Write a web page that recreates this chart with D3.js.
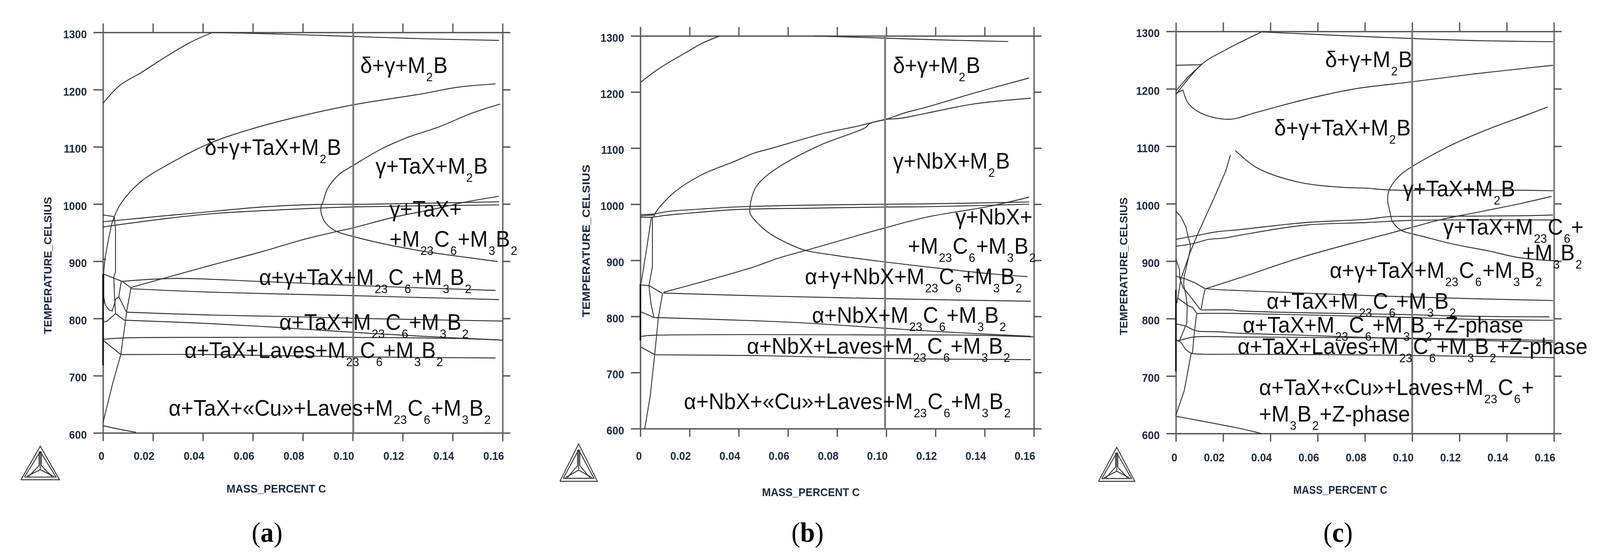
<!DOCTYPE html>
<html>
<head>
<meta charset="utf-8">
<script src="https://cdn.jsdelivr.net/npm/d3@7"></script>
<style>
html, body { margin: 0; background: #fff; overflow: hidden; }
svg { display: block; width: 100vw; height: 100vh; }
</style>
</head>
<body>
<div id="chart"></div>
<script>
// axis values
var tempTicks = [600, 700, 800, 900, 1000, 1100, 1200, 1300];
var carbonTicks = [0, 0.02, 0.04, 0.06, 0.08, 0.10, 0.12, 0.14, 0.16];
var carbonTickLabels = ['0', '0.02', '0.04', '0.06', '0.08', '0.10', '0.12', '0.14', '0.16'];
var xTitle = 'MASS_PERCENT C';
var yTitle = 'TEMPERATURE_CELSIUS';

// phase boundaries, each one a list of [mass % C, temperature]
var curvesA = [
    [[0, 1176], [.0066, 1207], [.015, 1229], [.025, 1257], [.0347, 1282], [.0439, 1300]],
    [[.0439, 1300], [.0713, 1297], [.0995, 1293], [.1276, 1289], [.1586, 1286]],
    [[.0045, 978], [.0073, 1002], [.0151, 1039], [.0264, 1070], [.0432, 1107], [.0601, 1132], [.0794, 1154], [.1004, 1173.6], [.1282, 1193], [.1417, 1204], [.1572, 1210]],
    [[.159, 1174.7], [.1477, 1158.8], [.1346, 1135], [.1214, 1115.6], [.1109, 1095], [.1004, 1068], [.0946, 1052], [.0899, 1027], [.0881, 1004], [.0872, 993], [.0881, 974.6], [.0904, 961], [.0936, 952], [.1004, 943], [.1151, 928], [.1319, 915], [.1424, 908.6], [.158, 899.5]],
    [[0, 981], [.0045, 978]],
    [[0, 969], [.0235, 979], [.0362, 984], [.0643, 995], [.0826, 999], [.108, 999.8], [.1586, 1004]],
    [[0, 960], [.0235, 973.7], [.0432, 983], [.0794, 991.6], [.1004, 995], [.1586, 998.5]],
    [[.0111, 854], [.0249, 871], [.0432, 893], [.0643, 917.6], [.0794, 937], [.0936, 952], [.1004, 958.6], [.1162, 976.8], [.1319, 990.5], [.1446, 1003], [.1585, 1013.5]],
    [[.0078, 865], [.0291, 870], [.0615, 865], [.0995, 858], [.1276, 853.4], [.1572, 849]],
    [[.0111, 852], [.0432, 846], [.0995, 840], [.1276, 836.6], [.1586, 833]],
    [[.0095, 811], [.0432, 806], [.0713, 803.6], [.0995, 800.5], [.1276, 798], [.16, 795.5]],
    [[.0085, 797], [.0432, 791], [.0713, 784], [.0995, 776], [.1276, 769], [.1586, 762.5]],
    [[0, 763.5], [.0083, 766], [.0432, 767], [.0995, 767], [.1417, 765], [.16, 762]],
    [[0, 762], [.0071, 737]],
    [[.0071, 737], [.0432, 737], [.0995, 733], [.1572, 731]],
    [[0, 612.6], [.0058, 607], [.0132, 601]],
    [[0, 618], [.0039, 687], [.0071, 736.5], [.0088, 789], [.0095, 813], [.0112, 854]],
    [[.0002, 878], [.0009, 908], [.0024, 943], [.0036, 967], [.0045, 978]],
    [[.0045, 978], [.005, 956], [.005, 881], [.0043, 873], [.0046, 840], [.005, 809]],
    [[0, 878], [.0041, 871], [.0078, 864.5], [.0111, 854]],
    [[.0073, 864.5], [.0063, 838], [.0051, 834], [.0037, 813], [.0024, 815], [.0009, 824], [.0002, 840]],
    [[.0063, 838], [.0093, 812]],
    [[.0049, 809], [.0085, 797]],
    [[.0049, 808], [.0014, 794.5], [0, 794]],
    [[0, 903.6], [.0012, 903.6]],
    [[.0003, 878], [.0003, 826]]
];
var curvesB = [
    [[0, 1217], [.008, 1243], [.018, 1269], [.0252, 1287], [.0323, 1300]],
    [[.0709, 1300], [.0995, 1296], [.121, 1293], [.1496, 1290]],
    [[.0055, 978], [.0063, 986], [.0137, 1021], [.0252, 1053], [.0384, 1076.5], [.0459, 1090.6], [.0533, 1099.6], [.0633, 1112.4], [.0757, 1127.5], [.0882, 1139], [.0996, 1151], [.1056, 1153], [.1161, 1162], [.1353, 1178.5], [.1588, 1189]],
    [[.1581, 1225], [.1353, 1197.6], [.1161, 1172.7], [.1081, 1163.6], [.0996, 1151], [.0932, 1143.7], [.0917, 1137], [.0732, 1105.4], [.0583, 1071.8], [.0508, 1048.8], [.0469, 1030], [.0451, 1009], [.0446, 995], [.0446, 983.7], [.0474, 967.4], [.0523, 948.8], [.0593, 931.5], [.0672, 917.5], [.0782, 909.6], [.0852, 905], [.0995, 897], [.121, 886], [.1424, 876], [.1574, 871]],
    [[0, 981.4], [.006, 983], [.011, 987], [.025, 991.5], [.0384, 995], [.0638, 998], [.0995, 1000], [.1161, 1000.6], [.1581, 1004]],
    [[0, 976.7], [.005, 977], [.01, 980], [.017, 983], [.025, 986], [.0384, 990.4], [.0702, 993], [.0995, 995], [.1161, 995.5], [.1581, 1000]],
    [[0, 979], [.0055, 981]],
    [[.0094, 843], [.0452, 887], [.0568, 904.8], [.0672, 917.5], [.0882, 944], [.0996, 958], [.1161, 976.7], [.1424, 996.7], [.1581, 1012.6]],
    [[.0094, 841.6], [.0495, 836.5], [.1067, 831], [.1588, 827]],
    [[.0066, 798], [.0352, 794], [.0638, 789], [.0995, 779], [.121, 773], [.1588, 764.6]],
    [[0, 764], [.0035, 766], [.1067, 767], [.1353, 766.6], [.16, 763.4]],
    [[0, 746], [.0059, 731.6]],
    [[.0059, 731.6], [.0495, 730], [.0995, 725], [.1588, 723]],
    [[.0018, 600.5], [.004, 658], [.0058, 731], [.0073, 797], [.009, 841]],
    [[0, 856], [.0035, 855], [.009, 841]],
    [[.0003, 859], [.0025, 919.5], [.0045, 977]],
    [[.0049, 977], [.0049, 889], [.0035, 855], [.0043, 823], [.0055, 798.5], [.0073, 797]],
    [[0, 808.6], [.0055, 798]]
];
var curvesC = [
    [[0, 1190], [.011, 1243], [.0211, 1268], [.0362, 1299]],
    [[0, 1196.5], [.0052, 1221], [.011, 1243]],
    [[0, 1241], [.011, 1242]],
    [[.0362, 1299], [.0687, 1293], [.0975, 1288], [.1264, 1284], [.1596, 1282]],
    [[0, 1192], [.003, 1198]],
    [[.003, 1198], [.0052, 1175], [.011, 1157], [.0225, 1147], [.0341, 1159], [.0542, 1181], [.0759, 1200], [.0975, 1211], [.1264, 1226], [.1596, 1241]],
    [[.1574, 1168.5], [.1481, 1154], [.1326, 1130.5], [.117, 1103], [.1067, 1080.8], [.1, 1064.7], [.0947, 1049], [.0903, 1024], [.0896, 1006], [.0906, 985.7], [.0916, 969.6], [.0953, 953.7], [.1, 947.6], [.1041, 943.5], [.117, 930], [.1326, 917.6], [.1455, 906], [.16, 900.7]],
    [[.0251, 1093], [.0341, 1063], [.0514, 1038], [.0687, 1029], [.0808, 1027], [.0903, 1024], [.146, 1023.5], [.1596, 1022.6]],
    [[.0231, 1085], [.0211, 1057], [.0167, 1015], [.009, 945], [.0059, 914], [.0022, 870], [.0004, 827]],
    [[0, 987], [.0022, 977], [.0043, 959], [.0051, 944], [.0061, 929], [.0061, 921], [.0051, 902], [.0035, 873], [.0033, 859], [.0043, 840], [.0048, 822], [.0046, 792], [.0041, 787]],
    [[0, 903.5], [.0015, 886], [.0017, 870], [.003, 854], [.0043, 848], [.0077, 830], [.0105, 815]],
    [[0, 874], [.0035, 870], [.0082, 862], [.0124, 852]],
    [[.0126, 852], [.0263, 870], [.0542, 908], [.0808, 938], [.0953, 953.7], [.1, 959], [.1129, 973], [.1263, 984], [.1455, 1000], [.159, 1012.8]],
    [[.0124, 852], [.0116, 838], [.0107, 816]],
    [[.0088, 809.5], [.0079, 779], [.007, 740], [.0064, 738], [.0035, 674], [0, 632]],
    [[.0007, 836], [.0051, 823], [.0072, 819], [.0088, 809.5]],
    [[.0126, 852], [.02, 850], [.0263, 849], [.0687, 842], [.0975, 838], [.1264, 834.6], [.1596, 831.5]],
    [[.0107, 815], [.024, 815], [.0263, 813.5], [.0975, 807], [.1264, 804], [.1581, 803]],
    [[.009, 809], [.0263, 809], [.0975, 802], [.1264, 798.6], [.1596, 797]],
    [[.0043, 787], [.0077, 780], [.0097, 778], [.018, 777], [.0263, 774.6], [.0542, 771], [.0975, 765], [.1596, 759]],
    [[.0016, 762], [.0077, 768], [.0263, 768], [.0975, 766], [.1596, 762]],
    [[0, 762], [.0017, 760], [.0043, 746], [.0066, 739.7], [.0118, 738], [.0263, 738], [.0975, 736], [.16, 732]],
    [[0, 791], [.0041, 787]],
    [[.0041, 787], [.0016, 762], [0, 762]],
    [[0, 630], [.0263, 609.4], [.0362, 600]],
    [[0, 938], [.0092, 945], [.017, 951], [.0263, 954.6], [.0542, 967], [.0808, 973], [.0903, 977.6], [.1, 978], [.146, 979], [.1596, 980.4]],
    [[0, 926], [.0066, 930], [.0139, 938], [.0201, 940], [.0263, 944.6], [.0542, 962.5], [.0808, 967.3], [.1, 971], [.1596, 971.7]]
];

// darker overdrawn stretch of the left axis, [top, bottom] in degrees
var heavyAxisA = [878, 718];
var heavyAxisB = [858, 757];
var heavyAxisC = [850, 708];

// mass % C of the marked composition
var markerA = 0.1002;
var markerB = 0.0995;
var markerC = 0.1;

// phase field names, {n} is a subscript
var labelsA = ['δ+γ+M{2}B', 'δ+γ+TaX+M{2}B', 'γ+TaX+M{2}B', 'γ+TaX+', '+M{23}C{6}+M{3}B{2}', 'α+γ+TaX+M{23}C{6}+M{3}B{2}', 'α+TaX+M{23}C{6}+M{3}B{2}', 'α+TaX+Laves+M{23}C{6}+M{3}B{2}', 'α+TaX+«Cu»+Laves+M{23}C{6}+M{3}B{2}'];
var labelAtA = [[.103, 1229], [.0407, 1085.7], [.1091, 1052.7], [.1147, 978], [.1147, 925.7], [.0625, 858.4], [.0706, 780], [.0326, 730.8], [.0263, 630]];
var labelsB = ['δ+γ+M{2}B', 'γ+NbX+M{2}B', 'γ+NbX+', '+M{23}C{6}+M{3}B{2}', 'α+γ+NbX+M{23}C{6}+M{3}B{2}', 'α+NbX+M{23}C{6}+M{3}B{2}', 'α+NbX+Laves+M{23}C{6}+M{3}B{2}', 'α+NbX+«Cu»+Laves+M{23}C{6}+M{3}B{2}'];
var labelAtB = [[.1027, 1233.8], [.1027, 1063.4], [.1281, 963.6], [.1088, 911.5], [.0669, 857.5], [.0698, 788.8], [.0433, 733.5], [.0177, 635]];
var labelsC = ['δ+γ+M{2}B', 'δ+γ+TaX+M{2}B', 'γ+TaX+M{2}B', 'γ+TaX+M{23}C{6}+', '+M{3}B{2}', 'α+γ+TaX+M{23}C{6}+M{3}B{2}', 'α+TaX+M{23}C{6}+M{3}B{2}', 'α+TaX+M{23}C{6}+M{3}B{2}+Z-phase', 'α+TaX+Laves+M{23}C{6}+M{3}B{2}+Z-phase', 'α+TaX+«Cu»+Laves+M{23}C{6}+', '+M{3}B{2}+Z-phase'];
var labelAtC = [[.0632, 1238], [.0416, 1119], [.0961, 1013], [.1131, 946], [.1466, 901.7], [.0651, 870.6], [.0384, 817], [.0283, 775.7], [.0261, 738.4], [.0352, 667], [.0352, 621]];

var panels = [
    { letter: 'a', curves: curvesA, heavy: heavyAxisA, marker: markerA, labels: labelsA, labelAt: labelAtA,
      left: 280.4, right: 1368, top: 83, bottom: 1109, tickTextGap: 69,
      xTitleAt: [752, 1262], yTitleAt: [140, 680], yTitleLen: 351, xTitleLen: 271, captionX: 727, logo: [57, 162, 1143, 1229] },
    { letter: 'b', curves: curvesB, heavy: heavyAxisB, marker: markerB, labels: labelsB, labelAt: labelAtB,
      left: 1743, right: 2814, top: 92, bottom: 1098, tickTextGap: 80,
      xTitleAt: [2207, 1271], yTitleAt: [1605, 617], yTitleLen: 391, xTitleLen: 266, captionX: 2198, logo: [1524, 1626, 1137, 1233] },
    { letter: 'c', curves: curvesC, heavy: heavyAxisC, marker: markerC, labels: labelsC, labelAt: labelAtC,
      left: 3200.6, right: 4229.7, top: 80.4, bottom: 1110.5, tickTextGap: 72,
      xTitleAt: [3648, 1265], yTitleAt: [3068, 682], yTitleLen: 353, xTitleLen: 256, captionX: 3642, logo: [2990, 3089, 1146, 1233] }
];

// the whole 4355x1432 layout is fitted to whatever window the page gets
var svg = d3.select('#chart').append('svg')
    .attr('viewBox', '0 0 4355 1432')
    .attr('preserveAspectRatio', 'none');

svg.append('rect').attr('width', 4355).attr('height', 1432).attr('fill', '#fff');

// the source is a resampled screenshot, so everything is slightly soft
svg.append('defs').append('filter')
    .attr('id', 'soft')
    .append('feGaussianBlur')
    .attr('stdDeviation', 0.7);

panels.forEach(drawPanel);

function drawPanel(p) {
    var x = d3.scaleLinear().domain([0, 0.16]).range([p.left, p.right]);
    var y = d3.scaleLinear().domain([600, 1300]).range([p.bottom, p.top]);

    var g = svg.append('g').attr('filter', 'url(#soft)');

    drawFrame(g, p, x, y);

    var line = d3.line()
        .x(function(d) { return x(d[0]); })
        .y(function(d) { return y(d[1]); });
    var smooth = d3.line()
        .x(function(d) { return x(d[0]); })
        .y(function(d) { return y(d[1]); })
        .curve(d3.curveCatmullRom.alpha(0.5));

    g.selectAll('path.curve')
        .data(p.curves)
        .enter().append('path')
        .attr('class', 'curve')
        .attr('d', function(d) {
            // the long boundaries are smooth, the little ones by the axis have corners
            var span = d3.max(d, function(v) { return v[0]; }) - d3.min(d, function(v) { return v[0]; });
            return span > 0.03 ? smooth(d) : line(d);
        })
        .attr('fill', 'none')
        .attr('stroke', '#333')
        .attr('stroke-width', 2.4);

    g.append('path')
        .attr('d', line([[0, p.heavy[0]], [0, p.heavy[1]]]))
        .attr('stroke', '#111')
        .attr('stroke-width', 4);

    g.append('path')
        .attr('d', line([[p.marker, 600], [p.marker, 1300]]))
        .attr('stroke', '#777')
        .attr('stroke-width', 5);

    p.labels.forEach(function(label, i) {
        drawLabel(g, label, x(p.labelAt[i][0]), y(p.labelAt[i][1]));
    });

    drawLogo(g, p.logo);

    svg.append('text')
        .attr('x', p.captionX)
        .attr('y', 1388)
        .attr('text-anchor', 'middle')
        .attr('font-family', '"Liberation Serif", serif')
        .attr('font-size', 72)
        .attr('fill', '#000')
        .html('(<tspan font-weight="bold">' + p.letter + '</tspan>)');
}

function drawFrame(g, p, x, y) {
    var axes = [
        { gen: d3.axisLeft(y).tickValues(tempTicks).tickSize(26), at: [p.left, 0] },
        { gen: d3.axisRight(y).tickValues(tempTicks).tickSize(21), at: [p.right, 0] },
        { gen: d3.axisTop(x).tickValues(carbonTicks).tickSize(23), at: [0, p.top] },
        { gen: d3.axisBottom(x).tickValues(carbonTicks).tickSize(21), at: [0, p.bottom] }
    ];

    axes.forEach(function(a) {
        var axis = g.append('g')
            .attr('transform', 'translate(' + a.at[0] + ',' + a.at[1] + ')')
            .call(a.gen.tickSizeOuter(0).tickFormat(''));
        axis.selectAll('path, line').attr('stroke', '#555').attr('stroke-width', 3.5);
    });

    var tickFont = '"Liberation Sans", Arial, sans-serif';

    g.selectAll('text.ytick')
        .data(tempTicks)
        .enter().append('text')
        .attr('class', 'ytick')
        .attr('x', p.left - 44)
        .attr('y', function(d) { return y(d) + 15; })
        .attr('text-anchor', 'end')
        .text(function(d) { return d; });

    g.selectAll('text.xtick')
        .data(carbonTicks)
        .enter().append('text')
        .attr('class', 'xtick')
        .attr('x', function(d) { return x(d) + 4; })
        .attr('y', p.bottom + p.tickTextGap)
        .attr('text-anchor', 'end')
        .text(function(d, i) { return carbonTickLabels[i]; });

    g.append('text')
        .attr('class', 'title')
        .attr('x', p.xTitleAt[0])
        .attr('y', p.xTitleAt[1])
        .attr('text-anchor', 'middle')
        .attr('textLength', p.xTitleLen)
        .attr('lengthAdjust', 'spacingAndGlyphs')
        .text(xTitle);

    g.append('text')
        .attr('class', 'title')
        .attr('transform', 'translate(' + p.yTitleAt[0] + ',' + p.yTitleAt[1] + ') rotate(-90)')
        .attr('text-anchor', 'middle')
        .attr('textLength', p.yTitleLen)
        .attr('lengthAdjust', 'spacingAndGlyphs')
        .text(yTitle);

    g.selectAll('text.ytick, text.xtick, text.title')
        .attr('font-family', tickFont)
        .attr('font-weight', 'bold')
        .attr('font-size', 29)
        .attr('fill', '#1b2a41');
}

function drawLabel(g, label, px, py) {
    var text = g.append('text')
        .attr('x', px)
        .attr('y', py)
        .attr('font-family', '"Liberation Sans", Arial, sans-serif')
        .attr('font-size', 58)
        .attr('fill', '#111');

    // split into plain runs and {subscripts}
    var parts = label.split(/(\{\d+\})/).filter(function(part) { return part !== ''; });
    parts.forEach(function(part, i) {
        var isSub = part.charAt(0) === '{';
        var afterSub = i > 0 && parts[i - 1].charAt(0) === '{';
        var span = text.append('tspan').text(isSub ? part.slice(1, -1) : part);
        if (isSub) {
            span.attr('font-size', 32).attr('dy', 21).attr('dx', 2);
        } else if (afterSub) {
            span.attr('dy', -21).attr('dx', 2);
        }
    });
}

function drawLogo(g, box) {
    var x = d3.scaleLinear().domain([0, 1]).range([box[0], box[1]]);
    var y = d3.scaleLinear().domain([0, 1]).range([box[3], box[2]]);
    var line = d3.line()
        .x(function(d) { return x(d[0]); })
        .y(function(d) { return y(d[1]); });
    var outer = [[0, 0], [1, 0], [.5, 1], [0, 0]];
    var inner = [[.09, .08], [.91, .08], [.5, .84], [.09, .08]];
    var spokes = [
        [[.5, .84], [.5, .3]],
        [[.47, .84], [.47, .42]],
        [[.53, .84], [.53, .42]],
        [[.15, .1], [.5, .3]],
        [[.85, .1], [.5, .3]],
        [[.2, .1], [.47, .42]],
        [[.8, .1], [.53, .42]]
    ];
    g.selectAll('path.logo')
        .data([outer, inner].concat(spokes))
        .enter().append('path')
        .attr('class', 'logo')
        .attr('d', line)
        .attr('fill', 'none')
        .attr('stroke', '#333')
        .attr('stroke-width', 2.4);
}
</script>
</body>
</html>
